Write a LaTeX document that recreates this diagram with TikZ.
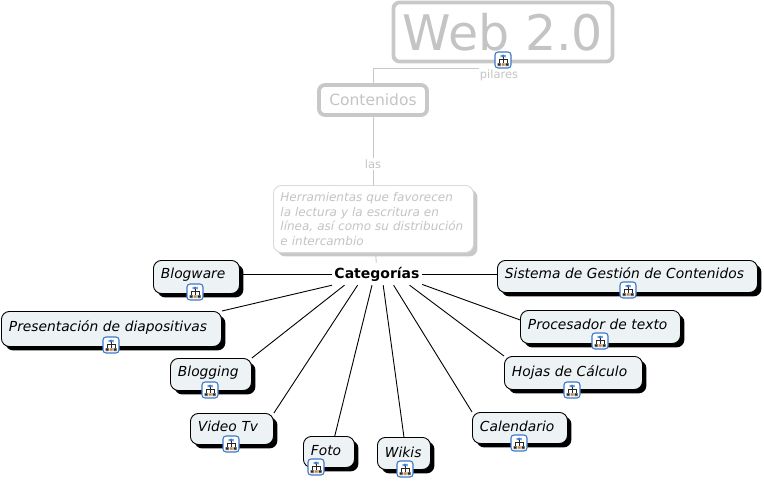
\documentclass[tikz,border=0pt]{standalone}
\usepackage{fontspec}
\setmainfont{DejaVu Sans}
\usepackage{tikz}
\usetikzlibrary{shadows}

\definecolor{faded}{HTML}{C8C8C8}
\definecolor{fadedtext}{HTML}{C4C4C4}
\definecolor{conceptfill}{HTML}{EDF3F5}
\definecolor{iconblue}{HTML}{3C78C8}

\tikzset{
  concept/.style={draw=black, line width=.9pt, fill=conceptfill, rounded corners=8pt, anchor=north west, align=left,
    font=\fontsize{13.8}{17}\selectfont\itshape, inner xsep=7.5pt, inner ysep=4pt, text height=14pt, text depth=10pt,
    drop shadow={shadow xshift=4pt, shadow yshift=-4pt, opacity=1, fill=black}},
  fadedbox/.style={draw=faded, line width=3.8pt, rounded corners=6pt, text=fadedtext},
  linkicon/.style={draw=iconblue, fill=white, line width=1.1pt, rounded corners=3pt, minimum size=16pt, inner sep=0pt,
    path picture={
      \fill[iconblue] ([shift={(-2.5pt,2.5pt)}]path picture bounding box.center) rectangle ++(5pt,3pt);
      \draw[black!85, line width=.8pt] ([shift={(0pt,3pt)}]path picture bounding box.center) -- ++(0,-6pt)
        ([shift={(-4pt,1pt)}]path picture bounding box.center) -- ++(0,-4pt)
        ([shift={(4pt,1pt)}]path picture bounding box.center) -- ++(0,-4pt)
        ([shift={(-4pt,1pt)}]path picture bounding box.center) -- ++(8pt,0);
      \fill[black!85] ([shift={(-5.5pt,-6pt)}]path picture bounding box.center) rectangle ++(3pt,3pt);
      \fill[brown] ([shift={(-1.5pt,-6pt)}]path picture bounding box.center) rectangle ++(3pt,3pt);
      \fill[black!85] ([shift={(2.5pt,-6pt)}]path picture bounding box.center) rectangle ++(3pt,3pt);
    }},
  link/.style={draw=black, line width=.9pt},
  fadedlink/.style={draw=faded, line width=.9pt}
}

\begin{document}
\begin{tikzpicture}[x=1pt,y=-1pt]
\useasboundingbox (0,0) rectangle (764,480);

% Top of the map
\node[fadedbox, minimum width=219pt, minimum height=59pt, font=\fontsize{49}{52}\selectfont] (web) at (503,32) {Web 2.0};
\node[fadedbox, minimum width=108pt, minimum height=30pt, font=\fontsize{15.5}{18}\selectfont] (contenidos) at (373,100) {Contenidos};
\node[text=fadedtext, inner sep=1pt, font=\fontsize{11.5}{14}\selectfont] (pilares) at (499,75) {pilares};
\node[text=fadedtext, inner sep=1pt, font=\fontsize{11.5}{14}\selectfont] (las) at (373,164) {las};
\node[draw=faded!70, line width=.9pt, fill=white, rounded corners=8pt, anchor=north west, align=left, text=fadedtext, inner xsep=7pt, inner ysep=4pt,
  text width=186pt, minimum height=67pt, font=\fontsize{12}{14.7}\selectfont\itshape,
  drop shadow={shadow xshift=4pt, shadow yshift=-4pt, opacity=1, fill=faded}] (herramientas) at (273,185)
  {Herramientas que favorecen\\la lectura y la escritura en\\línea, así como su distribución\\e intercambio};
\node[font=\fontsize{14}{17}\selectfont\bfseries, minimum width=90pt, minimum height=22pt, inner sep=0pt] (categorias) at (377,274) {Categorías};

% Faded links
\draw[fadedlink] (contenidos.north) |- (pilares.north west);
\draw[fadedlink] (contenidos) -- (las);
\draw[fadedlink] (las) -- (herramientas.north -| las);
\draw[fadedlink] (herramientas) -- (categorias);

% Left side
\node[concept, text width=71pt, text depth=11pt] (blogware) at (153,260) {Blogware};
\node[concept, text width=205pt, text height=16pt, text depth=11pt] (presentacion) at (1,311) {Presentación de diapositivas};
\node[concept, text width=66pt] (blogging) at (170,358) {Blogging};
\node[concept, text width=68pt, text depth=9pt] (video) at (190,413) {Video Tv};
\node[concept, text width=36pt, text height=15pt, text depth=8pt] (foto) at (303,436) {Foto};
\node[concept, text width=38pt, text height=16pt, text depth=8pt] (wikis) at (377,437) {Wikis};

% Right side
\node[concept, text width=245pt] (sistema) at (497,260) {Sistema de Gestión de Contenidos};
\node[concept, text width=145pt, text height=15pt, text depth=10pt] (procesador) at (520,310) {Procesador de texto};
\node[concept, text width=123pt, text height=16pt, text depth=9pt] (hojas) at (504,356) {Hojas de Cálculo};
\node[concept, text width=80pt, text height=15pt, text depth=8pt] (calendario) at (472,412) {Calendario};

% Links from the centre
\draw[link] (categorias.west) -- (categorias.west -| blogware.east);
\draw[link] (categorias.east) -- (categorias.east -| sistema.west);
\draw[link] (categorias.-166) -- (presentacion.north east);
\draw[link] (categorias.-161) -- (blogging.north east);
\draw[link] (categorias.-150) -- (video.north east);
\draw[link] (categorias.-114) -- (foto.70);
\draw[link] (categorias.-61) -- (wikis.north);
\draw[link] (categorias.-34.5) -- (calendario.north west);
\draw[link] (categorias.-19.5) -- (hojas.north west);
\draw[link] (categorias.-13.7) -- (procesador.175);

% Icons
\node[linkicon] (iconweb) at (503,60) {};
\node[linkicon] (iconblogware) at (195,292) {};
\node[linkicon] (iconpresentacion) at (111,345) {};
\node[linkicon] (iconblogging) at (210,390) {};
\node[linkicon] (iconvideo) at (231,444) {};
\node[linkicon] (iconfoto) at (316,467) {};
\node[linkicon] (iconwikis) at (405,469) {};
\node[linkicon] (iconsistema) at (628,290) {};
\node[linkicon] (iconprocesador) at (600,341) {};
\node[linkicon] (iconhojas) at (572,390) {};
\node[linkicon] (iconcalendario) at (519,443) {};
\end{tikzpicture}
\end{document}
